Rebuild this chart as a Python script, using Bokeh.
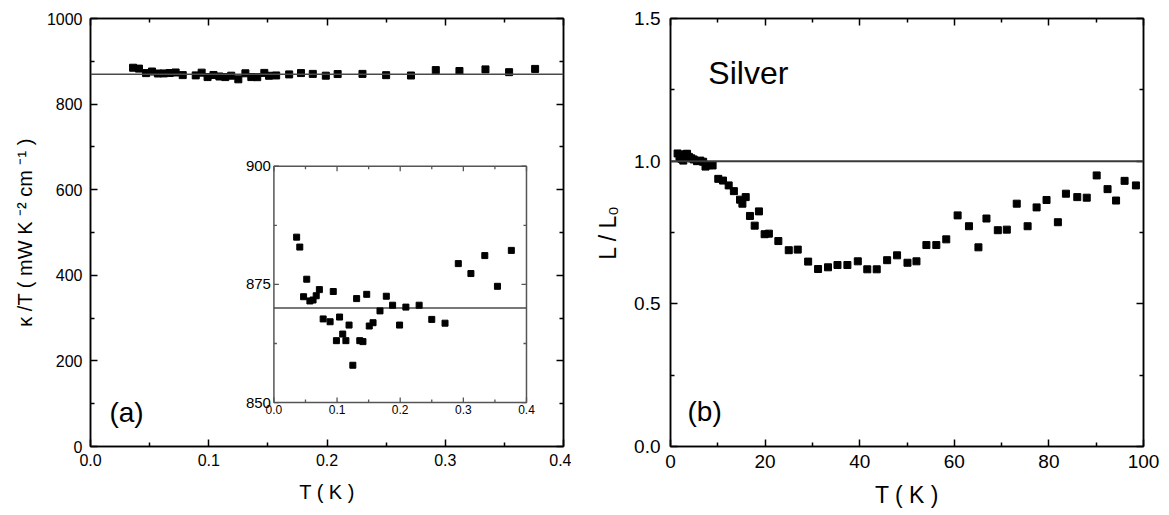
import numpy as np
from bokeh.plotting import figure
from bokeh.models import Range1d, FixedTicker, LinearAxis, Span, Label
from bokeh.layouts import row
from bokeh.embed import file_html
from bokeh.resources import INLINE
from bokeh.core.properties import value

FONT = "Liberation Sans"

# ---------------- data: panel (a)  kappa/T vs T ----------------
T_a = [0.036, 0.041, 0.047, 0.052, 0.057, 0.062, 0.067, 0.072, 0.078, 0.089,
       0.094, 0.099, 0.104, 0.109, 0.114, 0.119, 0.125, 0.131, 0.136, 0.141,
       0.147, 0.151, 0.157, 0.168, 0.178, 0.188, 0.199, 0.209, 0.230, 0.250,
       0.271, 0.292, 0.312, 0.334, 0.354, 0.376]
kT_a = [885.0, 882.9, 872.4, 876.1, 871.5, 871.7, 872.6, 873.9, 867.7, 867.1,
        873.5, 863.1, 868.1, 864.5, 863.1, 866.4, 857.9, 872.0, 863.1, 862.9,
        872.9, 866.2, 866.9, 869.4, 872.5, 870.6, 866.4, 870.2, 870.6, 867.6,
        866.8, 879.4, 877.3, 881.1, 874.6, 882.2]
KT_REF = 870

# ---------------- data: panel (b)  L/L0 vs T ----------------
T_b = [1.5, 1.9, 2.3, 2.7, 3.1, 3.5, 3.9, 4.4, 4.9, 5.6, 6.3, 6.9, 7.4, 8.2, 8.9,
       10.1, 11.1, 12.3, 13.4, 14.7, 15.2, 15.9, 16.8, 17.8, 18.7, 19.9, 20.8,
       22.8, 25.0, 26.9, 29.1, 31.2, 33.3, 35.3, 37.4, 39.6, 41.6, 43.6, 45.8,
       47.9, 50.1, 52.0, 54.1, 56.2, 58.3, 60.7, 63.1, 65.1, 66.8, 69.2, 71.1,
       73.2, 75.5, 77.4, 79.5, 81.9, 83.6, 86.0, 88.0, 90.1, 92.4, 94.2, 96.0,
       98.4]
L_b = [1.027, 1.015, 1.008, 1.002, 1.024, 1.026, 1.015, 1.010, 1.006, 1.000,
       1.002, 0.998, 0.981, 0.986, 0.985,
       0.938, 0.932, 0.915, 0.895, 0.865, 0.851, 0.874, 0.808, 0.774, 0.824,
       0.744, 0.746, 0.720, 0.688, 0.690, 0.648, 0.622, 0.628, 0.636, 0.636,
       0.649, 0.621, 0.621, 0.653, 0.670, 0.644, 0.649, 0.706, 0.706, 0.726,
       0.810, 0.772, 0.698, 0.799, 0.758, 0.760, 0.851, 0.772, 0.838, 0.864,
       0.786, 0.886, 0.874, 0.872, 0.950, 0.902, 0.862, 0.931, 0.915]
L_REF = 1.0

# ---------------- ticks ----------------
A_XTICKS = [0.0, 0.1, 0.2, 0.3, 0.4]
A_XLABELS = ["0.0", "0.1", "0.2", "0.3", "0.4"]
A_XMINOR = [0.05, 0.15, 0.25, 0.35]
A_YTICKS = [0, 200, 400, 600, 800, 1000]
A_YLABELS = ["0", "200", "400", "600", "800", "1000"]
A_YMINOR = [100, 300, 500, 700, 900]

IN_XTICKS = [0.0, 0.1, 0.2, 0.3, 0.4]
IN_XLABELS = ["0.0", "0.1", "0.2", "0.3", "0.4"]
IN_XMINOR = [0.05, 0.15, 0.25, 0.35]
IN_YTICKS = [850, 875, 900]
IN_YLABELS = ["850", "875", "900"]
IN_YMINOR = [862.5, 887.5]

B_XTICKS = [0, 20, 40, 60, 80, 100]
B_XLABELS = ["0", "20", "40", "60", "80", "100"]
B_XMINOR = [10, 30, 50, 70, 90]
B_YTICKS = [0.0, 0.5, 1.0, 1.5]
B_YLABELS = ["0.0", "0.5", "1.0", "1.5"]
B_YMINOR = [0.25, 0.75, 1.25]


def style(p, xt, xl, xm, yt, yl, ym, tick_fs, label_fs, xstand, ystand, xlab_stand, ylab_stand):
    p.grid.visible = False
    p.outline_line_color = "black"
    p.outline_line_width = 1.5
    p.background_fill_color = "white"
    p.border_fill_color = "white"
    p.xaxis.ticker = FixedTicker(ticks=xt, minor_ticks=xm)
    p.yaxis.ticker = FixedTicker(ticks=yt, minor_ticks=ym)
    p.xaxis.major_label_overrides = {t: s for t, s in zip(xt, xl)}
    p.yaxis.major_label_overrides = {t: s for t, s in zip(yt, yl)}
    p.xaxis.major_label_standoff = xstand
    p.yaxis.major_label_standoff = ystand
    p.xaxis.axis_label_standoff = xlab_stand
    p.yaxis.axis_label_standoff = ylab_stand
    for ax in p.axis:
        ax.axis_line_color = "black"
        ax.axis_line_width = 1.5
        ax.major_tick_in = 7
        ax.major_tick_out = 0
        ax.minor_tick_in = 4
        ax.minor_tick_out = 0
        ax.major_tick_line_width = 1.5
        ax.minor_tick_line_width = 1.5
        ax.major_label_text_font = FONT
        ax.major_label_text_font_size = tick_fs
        ax.major_label_text_color = "black"
        ax.axis_label_text_font = FONT
        ax.axis_label_text_font_size = label_fs
        ax.axis_label_text_font_style = "normal"
        ax.axis_label_text_color = "black"
    # mirrored axes (ticks only, labels not drawn)
    for side, tk, mn in (("above", xt, xm), ("right", yt, ym)):
        ax = LinearAxis(ticker=FixedTicker(ticks=tk, minor_ticks=mn),
                        major_label_text_font_size="1px", major_label_text_color=None,
                        major_label_standoff=0,
                        axis_line_color="black", axis_line_width=1.5,
                        major_tick_in=7, major_tick_out=0, minor_tick_in=4, minor_tick_out=0,
                        major_tick_line_width=1.5, minor_tick_line_width=1.5)
        p.add_layout(ax, side)


# ---------------- panel (a) ----------------
p1 = figure(width=571, height=515, min_border_left=90, min_border_right=8,
            min_border_top=17, min_border_bottom=69,
            x_range=Range1d(0, 0.4), y_range=Range1d(0, 1000),
            output_backend="svg", toolbar_location=None,
            x_axis_label="T ( K )", y_axis_label="\u03ba /T ( mW K \u207b\u00b2 cm \u207b\u00b9 )")
style(p1, A_XTICKS, A_XLABELS, A_XMINOR, A_YTICKS, A_YLABELS, A_YMINOR,
      "16px", "20px", 7, 8, 12, 8)
p1.add_layout(Span(location=KT_REF, dimension="width", line_color="#4a4a4a", line_width=1.5))
p1.scatter(T_a, kT_a, marker="square", size=7, color="black")
p1.add_layout(Label(x=0.016, y=44, text="(a)", text_font=FONT, text_font_size="28px",
                    text_baseline="bottom", text_color="black"))

# inset (sub-coordinate system placed inside panel (a))
INSET_LEFT, INSET_RIGHT, INSET_BOTTOM, INSET_TOP = 0.1551, 0.3687, 102.6, 654.8
in_x = Range1d(0.0, 0.4)
in_y = Range1d(850, 900)
sub = p1.subplot(x_source=in_x, y_source=in_y,
                 x_target=Range1d(INSET_LEFT, INSET_RIGHT),
                 y_target=Range1d(INSET_BOTTOM, INSET_TOP))
IN_COL = "#555555"
sub.quad(left=[in_x.start], right=[in_x.end], bottom=[in_y.start], top=[in_y.end],
         fill_color="white", line_color=IN_COL, line_width=1.5)
sub.segment(x0=[in_x.start], x1=[in_x.end], y0=[KT_REF], y1=[KT_REF],
            line_color="#4a4a4a", line_width=1.5)
for ticks, ln in ((IN_XTICKS, 5), (IN_XMINOR, 3)):
    n = len(ticks)
    sub.ray(x=ticks, y=[in_y.start] * n, length=ln, length_units="screen",
            angle=np.pi / 2, line_color=IN_COL, line_width=1.3)
    sub.ray(x=ticks, y=[in_y.end] * n, length=ln, length_units="screen",
            angle=-np.pi / 2, line_color=IN_COL, line_width=1.3)
for ticks, ln in ((IN_YTICKS, 5), (IN_YMINOR, 3)):
    n = len(ticks)
    sub.ray(x=[in_x.start] * n, y=ticks, length=ln, length_units="screen",
            angle=0, line_color=IN_COL, line_width=1.3)
    sub.ray(x=[in_x.end] * n, y=ticks, length=ln, length_units="screen",
            angle=np.pi, line_color=IN_COL, line_width=1.3)
sub.text(x=IN_XTICKS, y=[in_y.start] * len(IN_XTICKS), text=IN_XLABELS,
         text_align="center", text_baseline="top", y_offset=2,
         text_font=value(FONT), text_font_size="12px", text_color="black")
sub.text(x=[in_x.start] * len(IN_YTICKS), y=IN_YTICKS, text=IN_YLABELS,
         text_align="right", text_baseline="middle", x_offset=-3,
         text_font=value(FONT), text_font_size="15px", text_color="black")
sub.scatter(T_a, kT_a, marker="square", size=6, color="black")

# ---------------- panel (b) ----------------
p2 = figure(width=598, height=515, min_border_left=99, min_border_right=26,
            min_border_top=18, min_border_bottom=68,
            x_range=Range1d(0, 100), y_range=Range1d(0, 1.5),
            output_backend="svg", toolbar_location=None,
            x_axis_label="T ( K )", y_axis_label="L / L\u2080")
style(p2, B_XTICKS, B_XLABELS, B_XMINOR, B_YTICKS, B_YLABELS, B_YMINOR,
      "19px", "23px", 8, 10, 11, 10)
p2.add_layout(Span(location=L_REF, dimension="width", line_color="#3a3a3a", line_width=2))
p2.scatter(T_b, L_b, marker="square", size=7, color="black")
p2.add_layout(Label(x=3.6, y=0.068, text="(b)", text_font=FONT, text_font_size="28px",
                    text_baseline="bottom", text_color="black"))
p2.add_layout(Label(x=8.0, y=1.31, text="Silver", text_font=FONT, text_font_size="32px",
                    text_baseline="alphabetic", text_color="black"))

layout = row(p1, p2)
open("out.html", "w").write(file_html(layout, INLINE))
